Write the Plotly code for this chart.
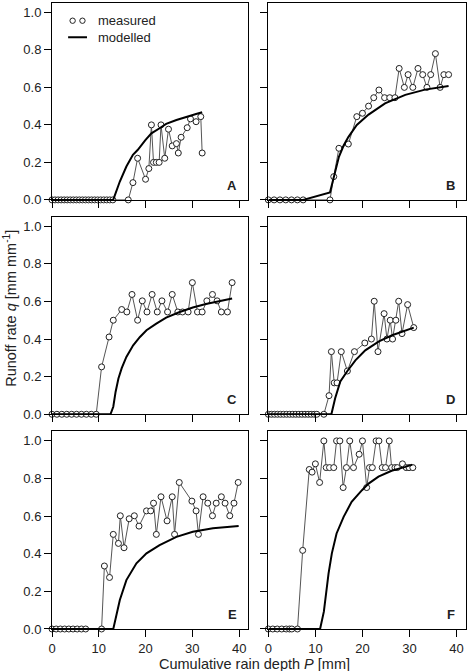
import plotly.graph_objects as go

# ---------------- data ----------------
# Panel A
a_meas_x = [0, 0.65, 1.3, 1.95, 2.6, 3.25, 3.9, 4.55, 5.2, 5.85, 6.5, 7.15, 7.8, 8.45, 9.1, 9.75,
            10.4, 11.05, 11.7, 12.35, 13.0, 16.3, 17.3, 18.3, 20.0, 20.7, 21.25, 21.7, 22.3, 22.9,
            23.3, 24.1, 24.9, 25.7, 26.6, 27.0, 27.6, 28.9, 29.6, 30.8, 31.8, 32.1]
a_meas_y = [0]*21 + [0, 0.092, 0.222, 0.11, 0.167, 0.40, 0.2, 0.2, 0.2, 0.40, 0.222, 0.377,
                     0.288, 0.30, 0.25, 0.334, 0.385, 0.432, 0.417, 0.444, 0.25]
a_mod_x = [0, 13.08, 14.5, 15.9, 17.3, 18.3, 20.0, 21.25, 23.0, 24.4, 26.6, 28.7, 30.8, 32.1]
a_mod_y = [0, 0, 0.098, 0.178, 0.24, 0.266, 0.32, 0.355, 0.382, 0.405, 0.426, 0.444, 0.458, 0.467]

# Panel B
b_meas_x = [0, 1.23, 2.47, 3.7, 4.93, 6.17, 7.4, 13.1, 13.9, 15.0, 17.0, 18.8, 20.0, 21.3, 22.4,
            23.5, 24.7, 25.8, 26.9, 27.8, 28.9, 29.7, 30.7, 31.8, 32.8, 33.7, 34.5, 35.5, 36.5,
            37.3, 38.3]
b_meas_y = [0, 0, 0, 0, 0, 0, 0, 0, 0.124, 0.275, 0.298, 0.444, 0.462, 0.50, 0.545, 0.586, 0.545,
            0.545, 0.545, 0.701, 0.60, 0.668, 0.60, 0.701, 0.668, 0.60, 0.668, 0.780, 0.60, 0.668,
            0.668]
b_mod_x = [0, 7.4, 13.1, 13.9, 15.0, 16.0, 17.0, 18.8, 21.3, 24.8, 29.1, 33.3, 38.3]
b_mod_y = [0, 0, 0.039, 0.124, 0.23, 0.29, 0.335, 0.40, 0.455, 0.515, 0.56, 0.588, 0.607]

# Panel C
c_meas_x = [0, 1.05, 2.1, 3.15, 4.2, 5.25, 6.3, 7.35, 8.4, 9.45, 10.6, 12.2, 13.1, 14.9, 16.0,
            17.1, 18.3, 19.3, 20.3, 21.4, 22.5, 23.5, 24.7, 25.7, 26.9, 27.9, 29.1, 30.0, 31.1,
            32.1, 33.1, 34.3, 35.3, 36.2, 37.5, 38.5]
c_meas_y = [0]*10 + [0.252, 0.411, 0.50, 0.557, 0.544, 0.637, 0.50, 0.603, 0.544, 0.637, 0.544,
                     0.603, 0.544, 0.637, 0.544, 0.544, 0.544, 0.70, 0.544, 0.544, 0.603, 0.637,
                     0.603, 0.544, 0.544, 0.70]
c_mod_x = [0, 12.5, 13.1, 13.6, 14.2, 14.9, 15.9, 17.35, 18.8, 20.2, 22.3, 24.4, 27.3, 30.1,
           32.9, 35.8, 38.5]
c_mod_y = [0, 0, 0.04, 0.12, 0.19, 0.245, 0.305, 0.367, 0.411, 0.447, 0.482, 0.514, 0.544,
           0.568, 0.586, 0.60, 0.615]

# Panel D
d_meas_x = [0, 0.65, 1.3, 1.95, 2.6, 3.25, 3.9, 4.55, 5.2, 5.85, 6.5, 7.15, 7.8, 8.45, 9.1, 9.75,
            10.3, 11.8, 12.9, 13.4, 14.0, 14.6, 15.5, 16.8, 18.3, 20.5, 21.9, 22.5, 23.3, 24.6,
            25.2, 25.9, 26.4, 27.1, 27.7, 28.4, 29.6, 30.9]
d_meas_y = [0]*18 + [0.099, 0.333, 0.167, 0.167, 0.333, 0.23, 0.333, 0.379, 0.40, 0.601, 0.333,
                     0.535, 0.40, 0.50, 0.40, 0.50, 0.601, 0.429, 0.583, 0.461]
d_mod_x = [0, 13.4, 14.2, 15.3, 16.8, 18.5, 20.6, 23.5, 26.3, 29.1, 30.9]
d_mod_y = [0, 0, 0.085, 0.175, 0.23, 0.287, 0.34, 0.388, 0.42, 0.447, 0.461]

# Panel E
e_meas_x = [0, 0.9, 1.8, 2.7, 3.6, 4.5, 5.4, 6.3, 7.2, 10.6, 11.2, 12.3, 13.1, 14.2, 14.6, 15.4,
            16.5, 17.6, 18.6, 20.2, 21.1, 21.7, 22.3, 23.3, 24.6, 25.7, 26.2, 27.2, 29.9, 30.8,
            31.3, 32.3, 33.3, 34.3, 35.1, 36.2, 37.0, 38.0, 38.9, 39.8]
e_meas_y = [0]*10 + [0.335, 0.274, 0.503, 0.455, 0.602, 0.432, 0.586, 0.602, 0.547, 0.628,
                     0.628, 0.669, 0.503, 0.703, 0.575, 0.703, 0.503, 0.779, 0.680, 0.628, 0.503,
                     0.703, 0.669, 0.602, 0.669, 0.703, 0.669, 0.602, 0.669, 0.779]
e_mod_x = [0, 13.1, 14.5, 15.9, 18.05, 20.2, 23.0, 26.6, 30.1, 34.4, 39.9]
e_mod_y = [0, 0, 0.154, 0.26, 0.349, 0.402, 0.446, 0.49, 0.517, 0.535, 0.547]

# Panel F
f_meas_x = [0, 0.95, 1.9, 2.85, 3.8, 4.5, 5.0, 6.2, 7.3, 8.7, 9.3, 10.0, 10.9, 11.8, 12.3, 13.0,
            13.9, 14.5, 15.2, 15.9, 16.6, 17.3, 18.1, 19.3, 20.0, 20.9, 21.5, 22.1, 22.9, 23.5,
            24.2, 24.9, 25.7, 26.2, 26.9, 27.4, 28.5, 29.3, 29.9, 30.7]
f_meas_y = [0]*8 + [0.418, 0.848, 0.834, 0.878, 0.779, 1.0, 0.858, 0.858, 0.858, 1.0, 1.0, 0.752,
                    0.858, 1.0, 0.858, 0.929, 1.0, 0.752, 0.858, 0.858, 1.0, 1.0, 0.858, 0.858,
                    1.0, 0.858, 0.858, 0.858, 0.878, 0.858, 0.858, 0.858]
f_mod_x = [0, 11.0, 11.8, 12.8, 13.5, 14.5, 16.0, 17.7, 19.9, 21.3, 23.4, 26.2, 29.1, 30.6]
f_mod_y = [0, 0, 0.092, 0.296, 0.402, 0.508, 0.596, 0.676, 0.738, 0.773, 0.81, 0.841, 0.862, 0.874]

panel_labels = ["A", "B", "C", "D", "E", "F"]
x_ticks = [0, 10, 20, 30, 40]
y_ticks = [0.0, 0.2, 0.4, 0.6, 0.8, 1.0]
legend_labels = ["measured", "modelled"]
x_title = "Cumulative rain depth <i>P</i> [mm]"
y_title = "Runoff rate <i>q</i> [mm mm<sup>-1</sup>]"

panels = [
    (a_meas_x, a_meas_y, a_mod_x, a_mod_y),
    (b_meas_x, b_meas_y, b_mod_x, b_mod_y),
    (c_meas_x, c_meas_y, c_mod_x, c_mod_y),
    (d_meas_x, d_meas_y, d_mod_x, d_mod_y),
    (e_meas_x, e_meas_y, e_mod_x, e_mod_y),
    (f_meas_x, f_meas_y, f_mod_x, f_mod_y),
]

# ---------------- figure ----------------
FONT = "Liberation Sans, Arial, sans-serif"
TXT = "#222222"
fig = go.Figure()

x_domains = [[0.0, 0.4746], [0.5225, 1.0]]
y_domains = [[0.6855, 1.0], [0.343, 0.6585], [0.0, 0.3155]]

for i, (mx, my, px, py) in enumerate(panels):
    n = i + 1
    xa = "x" if n == 1 else f"x{n}"
    ya = "y" if n == 1 else f"y{n}"
    fig.add_trace(go.Scatter(
        x=mx, y=my, xaxis=xa, yaxis=ya, mode="lines+markers",
        line=dict(color="#555555", width=1),
        marker=dict(symbol="circle", size=6, color="white",
                    line=dict(color="#222222", width=1)),
        cliponaxis=False, showlegend=False, hoverinfo="skip"))
    fig.add_trace(go.Scatter(
        x=px, y=py, xaxis=xa, yaxis=ya, mode="lines",
        line=dict(color="black", width=2),
        cliponaxis=False, showlegend=False, hoverinfo="skip"))

    row, col = i // 2, i % 2
    axis_common = dict(showline=True, linecolor="black", linewidth=1, mirror=True,
                       ticks="outside", ticklen=7, tickwidth=1, tickcolor="black",
                       showgrid=False, zeroline=False,
                       tickfont=dict(family=FONT, size=13, color=TXT))
    fig.layout[("xaxis" if n == 1 else f"xaxis{n}")] = dict(
        domain=x_domains[col], range=[0, 42], tickvals=x_ticks,
        showticklabels=(row == 2), anchor=ya, **axis_common)
    fig.layout[("yaxis" if n == 1 else f"yaxis{n}")] = dict(
        domain=y_domains[row], range=[0, 1.05], tickvals=y_ticks, tickformat=".1f",
        showticklabels=(col == 0), anchor=xa, **axis_common)

    fig.add_annotation(text=f"<b>{panel_labels[i]}</b>", xref=f"{xa} domain", yref=f"{ya} domain",
                       x=1, y=0, xanchor="right", yanchor="bottom", xshift=-9, yshift=5,
                       showarrow=False, font=dict(family=FONT, size=13, color=TXT))

# legend drawn in panel A
for cx in [0.105, 0.155]:
    fig.add_shape(type="circle", xref="x domain", yref="y domain",
                  xsizemode="pixel", ysizemode="pixel", xanchor=cx, yanchor=0.910,
                  x0=-2.7, x1=2.7, y0=-2.7, y1=2.7,
                  line=dict(color="#222222", width=1), fillcolor="white")
fig.add_shape(type="line", xref="x domain", yref="y domain",
              x0=0.082, x1=0.178, y0=0.826, y1=0.826, line=dict(color="black", width=2))
fig.add_annotation(text=legend_labels[0], xref="x domain", yref="y domain", x=0.226, y=0.912,
                   xanchor="left", yanchor="middle", showarrow=False,
                   font=dict(family=FONT, size=13, color=TXT))
fig.add_annotation(text=legend_labels[1], xref="x domain", yref="y domain", x=0.226, y=0.826,
                   xanchor="left", yanchor="middle", showarrow=False,
                   font=dict(family=FONT, size=13, color=TXT))

# axis titles
fig.add_annotation(text=x_title, xref="paper", yref="paper", x=0.490, y=-0.056,
                   xanchor="center", yanchor="middle", showarrow=False,
                   font=dict(family=FONT, size=14.5, color=TXT))
fig.add_annotation(text=y_title, xref="paper", yref="paper", x=-0.1015, y=0.513,
                   xanchor="center", yanchor="middle", textangle=-90, showarrow=False,
                   font=dict(family=FONT, size=14.5, color=TXT))

fig.update_layout(width=469, height=671, margin=dict(l=52, r=3, t=3, b=42),
                  paper_bgcolor="white", plot_bgcolor="white", showlegend=False)

fig.write_html("out.html")
